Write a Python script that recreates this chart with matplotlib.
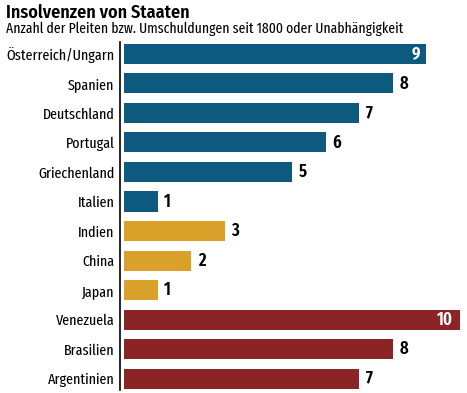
import matplotlib
matplotlib.use("Agg")
import matplotlib.pyplot as plt

countries = ["Österreich/Ungarn", "Spanien", "Deutschland", "Portugal", "Griechenland",
             "Italien", "Indien", "China", "Japan", "Venezuela", "Brasilien", "Argentinien"]
counts = [9, 8, 7, 6, 5, 1, 3, 2, 1, 10, 8, 7]
groups = ["eu", "eu", "eu", "eu", "eu", "eu", "as", "as", "as", "am", "am", "am"]
palette = {"eu": "#0e5a7e", "as": "#d9a02a", "am": "#8a2427"}

plt.rcParams['font.family'] = ['Fira Sans Extra Condensed', 'DejaVu Sans']

fig = plt.figure(figsize=(4.67, 3.93), dpi=100)
W, H = 467, 393
ax = fig.add_axes([120 / W, 1 - 390 / H, 342 / W, 348 / H])

ypos = list(range(len(countries)))
ax.barh(ypos, counts, height=0.68, color=[palette[g] for g in groups], left=0)
ax.set_xlim(-0.12, 10.06)
ax.set_ylim(11.38, -0.4)

for y, v in zip(ypos, counts):
    if v >= 9:
        ax.text(v - 0.2, y, str(v), ha='right', va='center', color='white',
                fontsize=13, fontweight='semibold')
    else:
        ax.text(v + 0.2, y, str(v), ha='left', va='center', color='black',
                fontsize=13, fontweight='semibold')

ax.set_yticks(ypos)
ax.set_yticklabels(countries, fontsize=11)
ax.tick_params(axis='y', length=0, pad=4)
ax.set_xticks([])
for s in ['top', 'right', 'bottom']:
    ax.spines[s].set_visible(False)
ax.spines['left'].set_linewidth(1.2)

fig.text(6 / W, 1 - 4 / H, "Insolvenzen von Staaten", fontsize=13, fontweight='semibold',
         family=['Fira Sans Condensed', 'DejaVu Sans'], va='top', ha='left')
fig.text(6 / W, 1 - 22 / H, "Anzahl der Pleiten bzw. Umschuldungen seit 1800 oder Unabhängigkeit",
         fontsize=10.7, va='top', ha='left')

fig.savefig("out.png", dpi=100)
